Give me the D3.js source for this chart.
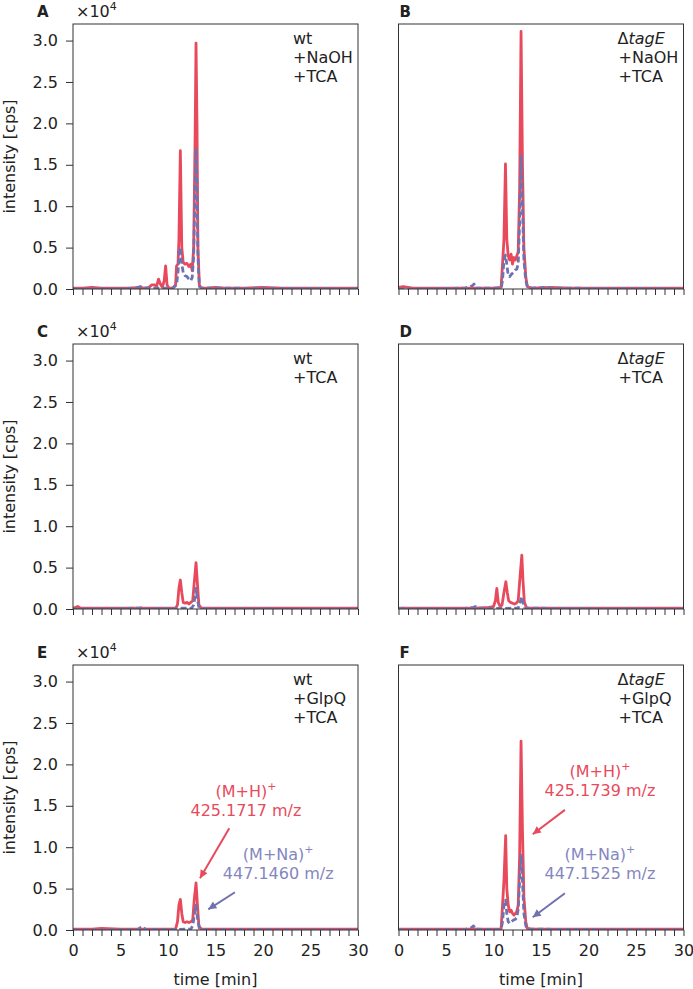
<!DOCTYPE html>
<html><head><meta charset="utf-8">
<script src="https://cdn.jsdelivr.net/npm/d3@7"></script>
<style>html,body{margin:0;padding:0;background:#fff;}svg{display:block;font-family:"DejaVu Sans",sans-serif;}</style>
</head><body>
<svg id="chart" width="693" height="989"></svg>
<script>
// ---- data (intensity in units of 1e4 cps, time in min) ----
const xTicks = [0,1,2,3,4,5,6,7,8,9,10,11,12,13,14,15,16,17,18,19,20,21,22,23,24,25,26,27,28,29,30];
const xTickLabels = ["0","5","10","15","20","25","30"];
const yTicks = [0,0.5,1,1.5,2,2.5,3];
const yTickLabels = ["0.0","0.5","1.0","1.5","2.0","2.5","3.0"];
const panelLetters = ["A","B","C","D","E","F"];
const conditionsWt = [["wt","+NaOH","+TCA"],["wt","+TCA"],["wt","+GlpQ","+TCA"]];
const conditionsTag = [["+NaOH","+TCA"],["+TCA"],["+GlpQ","+TCA"]];

const redA = [[0,0.01],[1,0.01],[2,0.02],[3,0.01],[4,0.01],[5,0.01],[6,0.01],[7,0.02],[7.5,0.01],[8,0.02],[8.3,0.05],[8.6,0.05],[8.8,0.03],[9.0,0.12],[9.2,0.06],[9.4,0.02],[9.6,0.1],[9.75,0.28],[9.9,0.05],[10.1,0.01],[10.5,0.01],[10.8,0.05],[10.9,0.28],[11.05,0.3],[11.15,0.6],[11.3,1.67],[11.45,0.5],[11.6,0.32],[11.8,0.3],[12.0,0.31],[12.2,0.27],[12.4,0.3],[12.55,0.22],[12.7,0.5],[12.85,1.8],[12.95,2.97],[13.05,2.0],[13.15,0.5],[13.3,0.05],[13.5,0.01],[14,0.01],[15,0.02],[16,0.01],[18,0.01],[20,0.02],[22,0.01],[24,0.01],[26,0.01],[28,0.01],[30,0.01]];
const blueA = [[0,0],[5,0.005],[6.5,0.01],[7.1,0.03],[7.4,0.01],[8,0.01],[10.5,0.01],[10.9,0.05],[11.05,0.2],[11.2,0.45],[11.3,0.5],[11.45,0.3],[11.6,0.2],[11.8,0.16],[12.0,0.15],[12.2,0.12],[12.4,0.1],[12.55,0.14],[12.7,0.4],[12.85,1.2],[12.95,1.7],[13.05,1.3],[13.15,0.4],[13.3,0.03],[13.5,0.01],[30,0.005]];
const redB = [[0,0.02],[0.5,0.03],[1,0.02],[1.5,0.01],[3,0.01],[5,0.01],[7,0.01],[8,0.01],[10,0.01],[10.8,0.02],[10.95,0.3],[11.1,0.6],[11.26,1.51],[11.4,0.6],[11.55,0.4],[11.7,0.35],[11.85,0.42],[12.0,0.3],[12.15,0.38],[12.3,0.35],[12.45,0.4],[12.6,0.45],[12.75,1.2],[12.9,3.11],[13.05,1.5],[13.2,0.5],[13.4,0.15],[13.55,0.03],[14,0.01],[16,0.02],[18,0.01],[30,0.01]];
const blueB = [[0,0],[7,0.01],[7.8,0.04],[7.95,0.06],[8.1,0.01],[10.8,0.01],[10.95,0.1],[11.1,0.35],[11.26,0.41],[11.4,0.3],[11.55,0.16],[11.7,0.15],[11.9,0.18],[12.1,0.2],[12.3,0.23],[12.45,0.24],[12.6,0.3],[12.75,0.8],[12.9,1.62],[13.05,1.0],[13.2,0.35],[13.4,0.1],[13.6,0.02],[14,0.01],[15.7,0.02],[16,0.01],[30,0.005]];
const redC = [[0,0.01],[0.5,0.03],[0.8,0.01],[2,0.01],[5,0.01],[8,0.01],[10.8,0.01],[11.0,0.05],[11.15,0.25],[11.3,0.35],[11.45,0.2],[11.6,0.08],[11.8,0.07],[12.0,0.08],[12.2,0.06],[12.4,0.08],[12.6,0.1],[12.75,0.3],[12.95,0.56],[13.1,0.3],[13.25,0.05],[13.5,0.01],[30,0.01]];
const blueC = [[0,0],[7,0.01],[7.3,0.02],[7.6,0.005],[12.5,0.01],[12.7,0.05],[12.85,0.15],[12.95,0.25],[13.1,0.12],[13.25,0.02],[13.5,0.005],[30,0]];
const redD = [[0,0.01],[5,0.01],[8,0.01],[9.5,0.02],[10.0,0.03],[10.2,0.1],[10.35,0.25],[10.5,0.08],[10.7,0.03],[10.9,0.05],[11.1,0.2],[11.3,0.33],[11.45,0.2],[11.6,0.1],[11.8,0.08],[12.0,0.07],[12.2,0.06],[12.4,0.07],[12.6,0.1],[12.8,0.4],[12.98,0.65],[13.1,0.35],[13.25,0.08],[13.5,0.01],[14,0.01],[30,0.01]];
const blueD = [[0,0],[0.5,0.01],[1,0.005],[7,0.005],[7.9,0.02],[8.1,0.03],[8.3,0.005],[12.6,0.01],[12.8,0.08],[12.98,0.15],[13.1,0.08],[13.3,0.01],[30,0]];
const redE = [[0,0.01],[2,0.01],[3,0.02],[5,0.01],[8,0.01],[10.8,0.01],[11.0,0.1],[11.15,0.3],[11.3,0.37],[11.45,0.2],[11.6,0.1],[11.8,0.09],[12.0,0.1],[12.2,0.09],[12.4,0.1],[12.6,0.12],[12.75,0.35],[12.95,0.57],[13.1,0.3],[13.25,0.05],[13.5,0.01],[30,0.01]];
const blueE = [[0,0],[6.8,0.005],[7.1,0.03],[7.3,0.04],[7.6,0.01],[8,0.005],[12.4,0.01],[12.6,0.05],[12.8,0.2],[12.95,0.3],[13.1,0.15],[13.3,0.02],[13.6,0.005],[30,0]];
const redF = [[0,0.01],[5,0.01],[8,0.01],[10.8,0.01],[10.95,0.3],[11.1,0.6],[11.28,1.14],[11.4,0.5],[11.55,0.3],[11.7,0.22],[11.85,0.24],[12.0,0.2],[12.15,0.18],[12.3,0.2],[12.45,0.22],[12.6,0.3],[12.75,0.9],[12.9,2.28],[13.05,1.2],[13.2,0.4],[13.4,0.1],[13.55,0.02],[14,0.01],[30,0.01]];
const blueF = [[0,0],[7,0.005],[7.7,0.03],[7.9,0.05],[8.1,0.01],[10.8,0.005],[10.95,0.1],[11.1,0.3],[11.28,0.36],[11.4,0.2],[11.55,0.1],[11.7,0.08],[11.9,0.1],[12.1,0.12],[12.3,0.13],[12.45,0.15],[12.6,0.25],[12.75,0.6],[12.9,0.9],[13.05,0.6],[13.2,0.2],[13.4,0.05],[13.6,0.01],[30,0]];

// annotations: label lines, text anchor (t, v), arrow start (t, v), arrow tip (t, v)
const annE = {h:{lines:["(M+H)","425.1717 m/z"], at:[18.2,1.61], from:[16.45,1.23], to:[13.37,0.625]},
              na:{lines:["(M+Na)","447.1460 m/z"], at:[21.6,0.84], from:[17.05,0.456], to:[14.24,0.25]}};
const annF = {h:{lines:["(M+H)","425.1739 m/z"], at:[21.2,1.85], from:[17.52,1.45], to:[14.13,1.157]},
              na:{lines:["(M+Na)","447.1525 m/z"], at:[21.2,0.84], from:[17.52,0.444], to:[14.13,0.154]}};

const RED = "#e84a5c", BLUE = "#7072b0", BLUE_TXT = "#8486bf";

const svg = d3.select("#chart");
const colLeft = [73, 398.5], rowTop = [24, 344, 665];
const W = 285, H = 265;
const series = [[redA,blueA],[redB,blueB],[redC,blueC],[redD,blueD],[redE,blueE],[redF,blueF]];

const defs = svg.append("defs");
const mk = (id,col)=>defs.append("marker").attr("id",id).attr("viewBox","0 0 10 10").attr("refX",10).attr("refY",5)
   .attr("markerWidth",10).attr("markerHeight",8).attr("markerUnits","userSpaceOnUse").attr("orient","auto")
   .append("path").attr("d","M0,0L10,5L0,10Z").attr("fill",col);
mk("arrR",RED); mk("arrB",BLUE);

for (let i=0;i<6;i++){
  const r = Math.floor(i/2), c = i%2;
  const L = colLeft[c], T = rowTop[r];
  const x = d3.scaleLinear().domain([0,30]).range([L, L+W]);
  const y = d3.scaleLinear().domain([0,3.2]).range([T+H, T]);
  const g = svg.append("g");
  defs.append("clipPath").attr("id","clip"+i).append("rect").attr("x",L).attr("y",T).attr("width",W).attr("height",H);

  const line = d3.line().x(d=>x(d[0])).y(d=>y(d[1]));
  g.append("path").datum(series[i][0]).attr("d",line).attr("fill","none").attr("stroke",RED)
    .attr("stroke-width",2.8).attr("stroke-linejoin","round").attr("clip-path","url(#clip"+i+")");
  g.append("path").datum(series[i][1]).attr("d",line).attr("fill","none").attr("stroke",BLUE)
    .attr("stroke-width",2.8).attr("stroke-dasharray","6,3").attr("stroke-linejoin","round").attr("clip-path","url(#clip"+i+")");

  // x axis
  const xa = d3.axisBottom(x).tickValues(xTicks).tickSize(6).tickPadding(9)
    .tickFormat(d => (r===2 && d%5===0) ? xTickLabels[d/5] : "");
  const gx = g.append("g").attr("transform",`translate(0,${T+H})`).call(xa);
  gx.select(".domain").remove();
  gx.selectAll("line").attr("stroke","#333").attr("stroke-width",1);
  gx.selectAll("text").attr("font-size",16).attr("fill","#222").attr("font-family","DejaVu Sans");

  if (c===0){
    const ya = d3.axisLeft(y).tickValues(yTicks).tickSize(7).tickPadding(8).tickFormat((d,k)=>yTickLabels[k]);
    const gy = g.append("g").attr("transform",`translate(${L},0)`).call(ya);
    gy.select(".domain").remove();
    gy.selectAll("line").attr("stroke","#333");
    gy.selectAll("text").attr("font-size",16).attr("fill","#222").attr("font-family","DejaVu Sans");
    g.append("text").attr("transform",`translate(15,${T+H/2}) rotate(-90)`).attr("text-anchor","middle")
      .attr("font-size",16).attr("fill","#222").text("intensity [cps]");
    const m = g.append("text").attr("x",L+3).attr("y",T-7).attr("font-size",16).attr("fill","#222");
    m.append("tspan").text("×10");
    m.append("tspan").attr("font-size",11).attr("dy",-7).text("4");
  }
  // frame
  g.append("rect").attr("x",L).attr("y",T).attr("width",W).attr("height",H).attr("fill","none").attr("stroke","#333").attr("stroke-width",1);
  // letter
  g.append("text").attr("x", c===0 ? 37 : L+1).attr("y",T-7).attr("font-size",15).attr("font-weight","bold").attr("fill","#222").text(panelLetters[i]);
  // condition text
  const tx = L+220;
  const ct = g.append("text").attr("font-size",16).attr("fill","#222");
  if (c===0){
    conditionsWt[r].forEach((s,k)=>ct.append("tspan").attr("x",tx).attr("y",T+20+k*19).text(s));
  } else {
    const t0 = ct.append("tspan").attr("x",tx-1).attr("y",T+20);
    t0.text("Δ");
    ct.append("tspan").attr("font-style","italic").text("tagE");
    conditionsTag[r].forEach((s,k)=>ct.append("tspan").attr("x",tx).attr("y",T+20+(k+1)*19).text(s));
  }
  // bottom x label
  if (r===2){
    g.append("text").attr("x",L+W/2).attr("y",985).attr("text-anchor","middle").attr("font-size",16).attr("fill","#222").text("time [min]");
  }
  // annotations
  if (r===2){
    const ann = c===0 ? annE : annF;
    [["h",RED,RED,"arrR"],["na",BLUE_TXT,BLUE,"arrB"]].forEach(([k,tc,lc,mid])=>{
      const a = ann[k];
      const t = g.append("text").attr("text-anchor","middle").attr("font-size",16).attr("fill",tc);
      const l1 = t.append("tspan").attr("x",x(a.at[0])).attr("y",y(a.at[1]));
      l1.append("tspan").text(a.lines[0]);
      l1.append("tspan").attr("font-size",11).attr("dy",-7).text("+");
      t.append("tspan").attr("x",x(a.at[0])).attr("y",y(a.at[1])+19).text(a.lines[1]);
      g.append("line").attr("x1",x(a.from[0])).attr("y1",y(a.from[1])).attr("x2",x(a.to[0])).attr("y2",y(a.to[1]))
        .attr("stroke",lc).attr("stroke-width",2).attr("marker-end",`url(#${mid})`);
    });
  }
}
</script>
</body></html>
